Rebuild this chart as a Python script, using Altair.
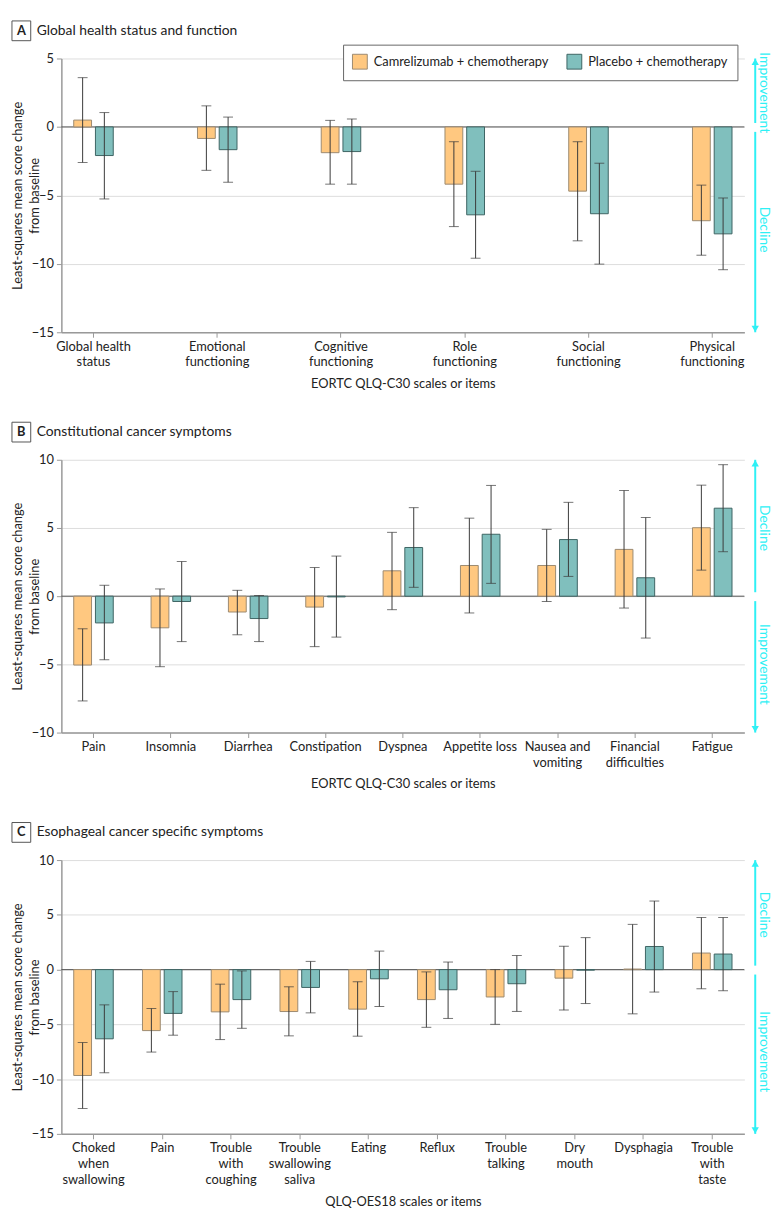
import altair as alt
import pandas as pd

FONT = "Lato"
CYAN = "#2EF0F5"

groups = ["Camrelizumab + chemotherapy", "Placebo + chemotherapy"]
fills = ["#FFC880", "#80BFBD"]
strokes = ["#9C8A70", "#3E6463"]

# Panel A
items_a = ["Global health\nstatus", "Emotional\nfunctioning", "Cognitive\nfunctioning",
           "Role\nfunctioning", "Social\nfunctioning", "Physical\nfunctioning"]
cam_a = [0.5, -0.84, -1.88, -4.18, -4.69, -6.85]
cam_a_lo = [-2.6, -3.17, -4.18, -7.28, -8.32, -9.37]
cam_a_hi = [3.6, 1.54, 0.48, -1.08, -1.08, -4.25]
pla_a = [-2.09, -1.66, -1.8, -6.42, -6.34, -7.81]
pla_a_lo = [-5.26, -4.04, -4.18, -9.59, -10.02, -10.43]
pla_a_hi = [1.05, 0.72, 0.58, -3.24, -2.65, -5.19]

# Panel B
items_b = ["Pain", "Insomnia", "Diarrhea", "Constipation", "Dyspnea", "Appetite loss",
           "Nausea and\nvomiting", "Financial\ndifficulties", "Fatigue"]
cam_b = [-5.05, -2.32, -1.16, -0.8, 1.86, 2.25, 2.25, 3.43, 5.02]
cam_b_lo = [-7.68, -5.17, -2.83, -3.7, -0.99, -1.23, -0.39, -0.87, 1.91]
cam_b_hi = [-2.39, 0.53, 0.43, 2.1, 4.68, 5.72, 4.9, 7.75, 8.14]
pla_b = [-1.96, -0.39, -1.64, -0.05, 3.57, 4.54, 4.15, 1.35, 6.45]
pla_b_lo = [-4.66, -3.33, -3.33, -3.0, 0.65, 0.94, 1.45, -3.07, 3.26]
pla_b_hi = [0.8, 2.54, 0.05, 2.94, 6.49, 8.12, 6.88, 5.77, 9.64]

# Panel C
items_c = ["Choked\nwhen\nswallowing", "Pain", "Trouble\nwith\ncoughing", "Trouble\nswallowing\nsaliva",
           "Eating", "Reflux", "Trouble\ntalking", "Dry\nmouth", "Dysphagia", "Trouble\nwith\ntaste"]
cam_c = [-9.67, -5.57, -3.86, -3.83, -3.61, -2.74, -2.5, -0.78, 0.05, 1.51]
cam_c_lo = [-12.68, -7.53, -6.39, -6.05, -6.08, -5.27, -5.0, -3.7, -4.04, -1.75]
cam_c_hi = [-6.66, -3.55, -1.33, -1.57, -1.11, -0.21, 0.0, 2.14, 4.13, 4.76]
pla_c = [-6.32, -4.0, -2.74, -1.63, -0.84, -1.84, -1.29, -0.05, 2.11, 1.42]
pla_c_lo = [-9.42, -5.99, -5.36, -3.95, -3.37, -4.46, -3.82, -3.1, -2.05, -1.93]
pla_c_hi = [-3.22, -2.01, -0.12, 0.75, 1.69, 0.69, 1.29, 2.92, 6.26, 4.76]

W = 691
BAR_GROUP = 40
EDGE = 32.5


def make_df(items, cam, cam_lo, cam_hi, pla, pla_lo, pla_hi):
    rows = []
    for i, it in enumerate(items):
        rows.append(dict(item=it, group=groups[0], value=cam[i], lo=cam_lo[i], hi=cam_hi[i]))
        rows.append(dict(item=it, group=groups[1], value=pla[i], lo=pla_lo[i], hi=pla_hi[i]))
    return pd.DataFrame(rows)


def panel(letter, title, items, df, ymin, ymax, yvals, H, xtitle, upper, lower, show_legend):
    n = len(items)
    step = (W - 2 * EDGE) / (n - 1)
    pi = 1 - BAR_GROUP / step
    po = (EDGE - BAR_GROUP / 2) / step
    xaxis = alt.Axis(title=xtitle, labelAngle=0, labelExpr="split(datum.label, '\\n')",
                     labelFontSize=13, labelLineHeight=16, labelPadding=3, labelColor="#222",
                     tickSize=5, tickColor="#999", domainColor="#999", domainWidth=1.5,
                     titleFontSize=13, titleFontWeight="normal", titleColor="#222", titlePadding=9,
                     labelFont=FONT, titleFont=FONT)
    x = alt.X("item:N", sort=items, scale=alt.Scale(paddingInner=pi, paddingOuter=po), axis=xaxis)
    xoff = alt.XOffset("group:N", sort=groups, scale=alt.Scale(paddingInner=0.18, paddingOuter=0))
    yscale = alt.Scale(domain=[ymin, ymax], nice=False, zero=False)
    yaxis = alt.Axis(values=yvals, tickSize=5, tickColor="#999", domainColor="#999", domainWidth=1.5,
                     labelFontSize=13, labelPadding=3, labelColor="#222", grid=True, gridColor="#dddddd",
                     title=["Least-squares mean score change", "from baseline"],
                     titleFontSize=13, titleFontWeight="normal", titleColor="#222",
                     titleX=-50, titleY=H / 2, titleAngle=-90, titleBaseline="top", titleAlign="center",
                     titleLineHeight=17, labelFont=FONT, titleFont=FONT)
    if show_legend:
        leg = alt.Legend(orient="none", legendX=285, legendY=-14, direction="horizontal", title=None,
                         strokeColor="#666", fillColor="white", padding=9, symbolType="square",
                         symbolSize=225, symbolStrokeColor="#888", symbolStrokeWidth=1,
                         labelFontSize=13, labelColor="#222", columnPadding=15, labelOffset=6,
                         labelLimit=0, cornerRadius=0, labelFont=FONT)
    else:
        leg = None
    fill = alt.Fill("group:N", sort=groups, scale=alt.Scale(domain=groups, range=fills), legend=leg)
    stroke = alt.Stroke("group:N", sort=groups, scale=alt.Scale(domain=groups, range=strokes), legend=None)

    base = alt.Chart(df)
    bars = base.mark_bar(strokeWidth=1).encode(
        x=x, xOffset=xoff, y=alt.Y("value:Q", scale=yscale, axis=yaxis), fill=fill, stroke=stroke)
    err = base.mark_rule(color="#3a3a3a", strokeWidth=1).encode(
        x=x, xOffset=xoff, y=alt.Y("lo:Q", scale=yscale, axis=yaxis), y2="hi:Q")
    cap_lo = base.mark_tick(color="#3a3a3a", thickness=1, size=10).encode(
        x=x, xOffset=xoff, y=alt.Y("lo:Q", scale=yscale, axis=yaxis))
    cap_hi = base.mark_tick(color="#3a3a3a", thickness=1, size=10).encode(
        x=x, xOffset=xoff, y=alt.Y("hi:Q", scale=yscale, axis=yaxis))
    zero = alt.Chart(pd.DataFrame({"z": [0]})).mark_rule(color="#555", strokeWidth=1).encode(
        y=alt.Y("z:Q", scale=yscale, axis=yaxis))

    up_df = pd.DataFrame({"label": [upper], "far": [ymax], "near": [0], "mid": [ymax / 2]})
    lo_df = pd.DataFrame({"label": [lower], "far": [ymin], "near": [0], "mid": [ymin / 2]})
    layers = [zero, bars, err, cap_lo, cap_hi]
    for d, sgn in ((up_df, 1), (lo_df, -1)):
        ann = alt.Chart(d)
        layers.append(ann.mark_rule(color=CYAN, strokeWidth=2,
                                    y2Offset=(-4 if sgn > 0 else 5)).encode(
            x=alt.value(W + 11), y=alt.Y("far:Q", scale=yscale, axis=yaxis), y2="near:Q"))
        layers.append(ann.mark_point(shape=("triangle-up" if sgn > 0 else "triangle-down"),
                                     filled=True, opacity=1, size=55, color=CYAN,
                                     yOffset=(3.5 if sgn > 0 else -3.5)).encode(
            x=alt.value(W + 11), y=alt.Y("far:Q", scale=yscale, axis=yaxis)))
        layers.append(ann.mark_text(angle=90, fontSize=14, color=CYAN, font=FONT,
                                    align="center", baseline="middle").encode(
            x=alt.value(W + 20), y=alt.Y("mid:Q", scale=yscale, axis=yaxis), text="label:N"))

    hdr = alt.Chart(pd.DataFrame({"L": [letter], "T": [title]}))
    layers.append(hdr.mark_rect(fill="white", stroke="#555", strokeWidth=1).encode(
        x=alt.value(-50), x2=alt.value(-31), y=alt.value(-38), y2=alt.value(-18)))
    layers.append(hdr.mark_text(fontWeight="bold", fontSize=13, font=FONT, color="#222",
                                align="center", baseline="middle").encode(
        x=alt.value(-40.5), y=alt.value(-28), text="L:N"))
    layers.append(hdr.mark_text(fontSize=14, font=FONT, color="#222",
                                align="left", baseline="middle").encode(
        x=alt.value(-25), y=alt.value(-28), text="T:N"))

    return alt.layer(*layers).properties(width=W, height=H)


pa = panel("A", "Global health status and function", items_a,
           make_df(items_a, cam_a, cam_a_lo, cam_a_hi, pla_a, pla_a_lo, pla_a_hi),
           -15, 5, [5, 0, -5, -10, -15], 277, "EORTC QLQ-C30 scales or items",
           "Improvement", "Decline", True)
pb = panel("B", "Constitutional cancer symptoms", items_b,
           make_df(items_b, cam_b, cam_b_lo, cam_b_hi, pla_b, pla_b_lo, pla_b_hi),
           -10, 10, [10, 5, 0, -5, -10], 276, "EORTC QLQ-C30 scales or items",
           "Decline", "Improvement", False)
pc = panel("C", "Esophageal cancer specific symptoms", items_c,
           make_df(items_c, cam_c, cam_c_lo, cam_c_hi, pla_c, pla_c_lo, pla_c_hi),
           -15, 10, [10, 5, 0, -5, -10, -15], 277, "QLQ-OES18 scales or items",
           "Decline", "Improvement", False)

chart = alt.vconcat(pa, pb, pc, spacing=129, bounds="flush").resolve_scale(
    x="independent", y="independent", xOffset="independent", fill="independent", stroke="independent"
).properties(
    padding={"top": 5, "left": 3, "right": 4, "bottom": 0}
).configure(font=FONT).configure_view(stroke=None)

chart.save("out.html", embed_options={"renderer": "svg", "actions": False})
